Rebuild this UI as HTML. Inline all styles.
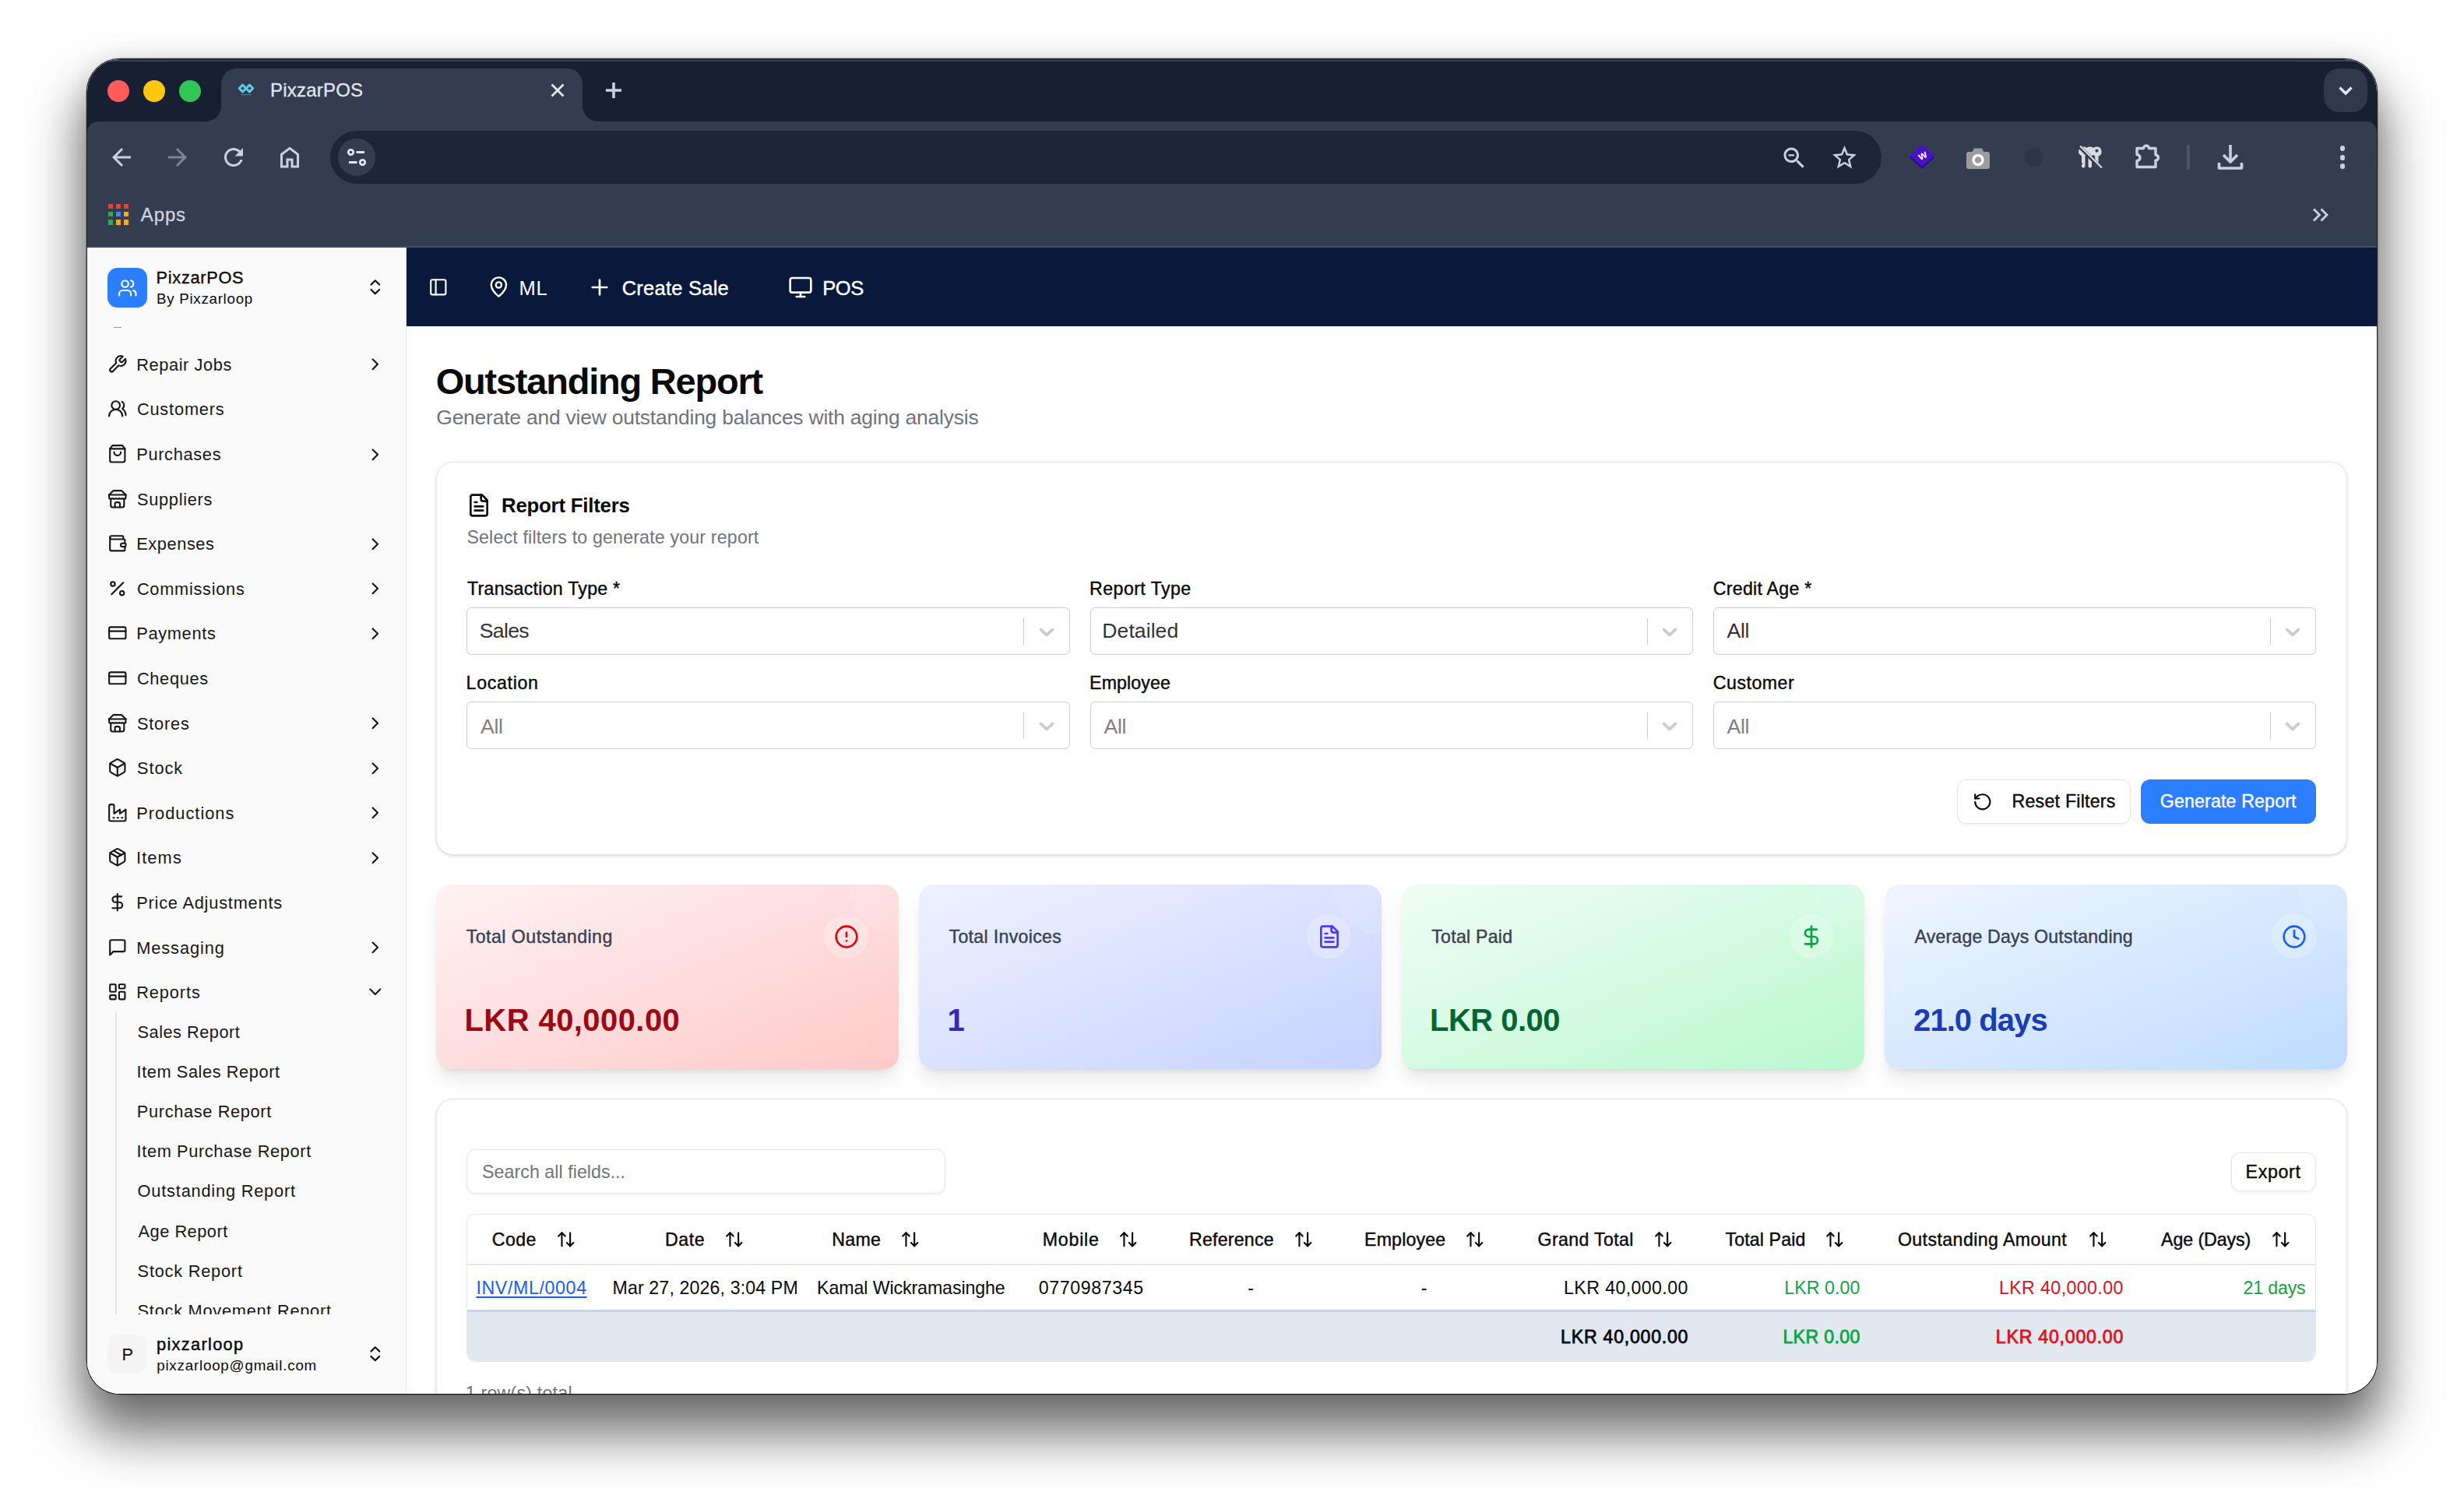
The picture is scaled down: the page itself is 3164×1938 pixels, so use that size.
<!DOCTYPE html>
<html lang="en"><head><meta charset="utf-8"><title>PixzarPOS - Outstanding Report</title>
<style>
html,body{margin:0;padding:0;background:#fff;}
body{width:3164px;height:1938px;position:relative;overflow:hidden;font-family:"Liberation Sans", sans-serif;}
#win{position:absolute;left:112px;top:76px;width:2940px;height:1714px;border-radius:42px;overflow:hidden;background:#fff;z-index:2;}
#shadow{position:absolute;left:112px;top:76px;width:2940px;height:1714px;border-radius:42px;z-index:1;
 box-shadow:0 0 0 1.3px rgba(0,0,0,.78),0 44px 68px 8px rgba(0,0,0,.57),0 4px 30px 0 rgba(0,0,0,.10);}
.b,.i,.t,.clip{position:absolute;}
.b{box-sizing:border-box;}
.t{white-space:pre;line-height:1;}
.i{overflow:visible;display:block;}
.clip{overflow:hidden;}
</style></head>
<body>
<div id="shadow"></div>
<div id="win">
<div class="b" style="left:0.0px;top:0.0px;width:2940.0px;height:110.0px;background:#172032;"></div>
<div class="b" style="left:0.0px;top:80.0px;width:2940.0px;height:162.0px;background:#343d4f;border-radius:14px 14px 0 0;"></div>
<div class="b" style="left:0.0px;top:239.5px;width:2940.0px;height:2.5px;background:#46505e;"></div>
<div class="b" style="left:0.0px;top:1.0px;width:2940.0px;height:1.5px;background:rgba(255,255,255,.16);"></div>
<svg class="i" style="left:148px;top:12px;width:512px;height:68px" viewBox="260 88 512 68"><path fill="#343d4f" d="M264 156 A20 20 0 0 0 284 136 L284 108 A20 20 0 0 1 304 88 L728 88 A20 20 0 0 1 748 108 L748 136 A20 20 0 0 0 768 156 Z"/></svg>
<div class="b" style="left:26.0px;top:27.0px;width:28.0px;height:28.0px;background:#ff5b5a;border-radius:50%;"></div>
<div class="b" style="left:72.0px;top:27.0px;width:28.0px;height:28.0px;background:#fdc60f;border-radius:50%;"></div>
<div class="b" style="left:118.0px;top:27.0px;width:28.0px;height:28.0px;background:#31c757;border-radius:50%;"></div>
<svg class="i" style="left:193px;top:27px;width:22px;height:24px" viewBox="0 0 22 24" fill="none" stroke="#5fcbe6" stroke-width="2.9" stroke-linejoin="round" stroke-linecap="round"><path d="M2.2 10.5 L6.6 6.1 L11 10.5 L6.6 14.9 Z"/><path d="M11 10.5 L15.4 6.1 L19.8 10.5 L15.4 14.9 Z"/><path d="M4.5 18.6 H17.5" stroke-width="1.4" stroke="#3f7d94"/></svg>
<span class="t" style="left:235.0px;top:28.3px;font-size:24px;letter-spacing:0.21px;color:#e1e6f0;-webkit-text-stroke:0.3px #e1e6f0;">PixzarPOS</span>
<svg class="i" style="left:595px;top:31px;width:18px;height:18px" viewBox="0 0 18 18" stroke="#e3e8f2" stroke-width="2.8" fill="none"><path d="M1.5 1.5 L16.5 16.5 M16.5 1.5 L1.5 16.5"/></svg>
<svg class="i" style="left:665px;top:29px;width:22px;height:22px" viewBox="0 0 22 22" stroke="#c7d0e5" stroke-width="3.6" fill="none"><path d="M1 11 H21 M11 1 V21"/></svg>
<div class="b" style="left:2872.0px;top:12.0px;width:56.0px;height:56.0px;background:#2f394b;border-radius:20px;"></div>
<svg class="i" style="left:2889px;top:29px;width:22px;height:22px" viewBox="0 0 22 22" stroke="#dfe5f0" stroke-width="3.4" fill="none"><path d="M3.5 7.5 L11 15 L18.5 7.5"/></svg>
<svg class="i" style="left:26.0px;top:108.0px;width:36px;height:36px" viewBox="0 0 24 24" fill="#c7d0e5"><path d="M20 11H7.83l5.59-5.59L12 4l-8 8 8 8 1.41-1.41L7.83 13H20v-2z"/></svg>
<svg class="i" style="left:97.8px;top:108.0px;width:36px;height:36px" viewBox="0 0 24 24" fill="#79839a"><path d="M12 4l-1.41 1.41L16.17 11H4v2h12.17l-5.58 5.59L12 20l8-8z"/></svg>
<svg class="i" style="left:170.0px;top:108.0px;width:36px;height:36px" viewBox="0 0 24 24" fill="#c7d0e5"><path d="M17.65 6.35C16.2 4.9 14.21 4 12 4c-4.42 0-7.99 3.58-7.99 8s3.57 8 7.99 8c3.73 0 6.84-2.55 7.73-6h-2.08c-.82 2.33-3.04 4-5.65 4-3.31 0-6-2.69-6-6s2.69-6 6-6c1.66 0 3.14.69 4.22 1.78L13 11h7V4l-2.35 2.35z"/></svg>
<svg class="i" style="left:242.0px;top:108.0px;width:36px;height:36px" viewBox="0 0 24 24" fill="#c7d0e5"><path d="M6 19h3v-6h6v6h3v-9l-6-4.5L6 10v9zm-2 2V9l8-6 8 6v12h-7v-6h-2v6H4z"/></svg>
<div class="b" style="left:312.0px;top:92.0px;width:1992.0px;height:68.0px;background:#1d2639;border-radius:34px;"></div>
<div class="b" style="left:322.0px;top:102.0px;width:48.0px;height:48.0px;background:#343d4f;border-radius:50%;"></div>
<svg class="i" style="left:332px;top:112px;width:28px;height:28px" viewBox="0 0 28 28" stroke="#dfe5f0" stroke-width="2.8" fill="none"><circle cx="6.5" cy="7.5" r="3.2"/><path d="M13.5 7.5 H24"/><circle cx="21.5" cy="20.5" r="3.2"/><path d="M4 20.5 H14.5"/></svg>
<svg class="i" style="left:2174.0px;top:109.0px;width:36px;height:36px" viewBox="0 0 24 24" fill="#c7d0e5"><path d="M15.5 14h-.79l-.28-.27C15.41 12.59 16 11.11 16 9.5 16 5.91 13.09 3 9.5 3S3 5.91 3 9.5 5.91 16 9.5 16c1.61 0 3.09-.59 4.23-1.57l.27.28v.79l5 4.99L20.49 19l-4.99-5zm-6 0C7.01 14 5 11.99 5 9.5S7.01 5 9.5 5 14 7.01 14 9.5 11.99 14 9.5 14zM7 8.8h5v1.5H7z"/></svg>
<svg class="i" style="left:2237.5px;top:107.5px;width:37px;height:37px" viewBox="0 0 24 24" fill="#c7d0e5"><path d="M22 9.24l-7.19-.62L12 2 9.19 8.63 2 9.24l5.46 4.73L5.82 21 12 17.27 18.18 21l-1.63-7.03L22 9.24zM12 15.4l-3.76 2.27 1-4.28-3.32-2.88 4.38-.38L12 6.1l1.71 4.04 4.38.38-3.32 2.88 1 4.28L12 15.4z"/></svg>
<svg class="i" style="left:2339px;top:109.19999999999999px;width:34px;height:33px" viewBox="0 0 34 33"><path d="M17 4 L33 17.5 L17 32 L1 17.5 Z" fill="#2d0b8f"/><path d="M17 1 L33 14.5 L17 28.5 L1 14.5 Z" fill="#4a12c8"/></svg>
<span class="t" style="left:2351.0px;top:116.2px;font-size:14px;letter-spacing:0.00px;color:#ffffff;font-weight:700;transform:rotate(-26deg);">w</span>
<svg class="i" style="left:2413px;top:113px;width:30px;height:28px" viewBox="0 0 30 28"><path d="M3 6 H7.5 L10 1.5 H20 L22.5 6 H27 A3 3 0 0 1 30 9 V25 A3 3 0 0 1 27 28 H3 A3 3 0 0 1 0 25 V9 A3 3 0 0 1 3 6 Z" fill="#9c9c9c"/><circle cx="15" cy="16.5" r="6" fill="none" stroke="#ffffff" stroke-width="3.4"/></svg>
<div class="b" style="left:2488.0px;top:114.0px;width:24.0px;height:24.0px;background:#2d3647;border-radius:50%;"></div>
<svg class="i" style="left:2556px;top:111px;width:32px;height:30px" viewBox="0 0 32 30"><g fill="#d9dbe2"><path d="M7.5 1.5a6 6 0 0 1 2 11.6V27l-2.2 2-2.3-2v-2.4l1.5-1.3-1.5-1.4v-8.8A6 6 0 0 1 7.5 1.5z"/><path d="M16 1.5a6 6 0 0 1 2 11.6V27l-2.2 2-2.3-2V13.1A6 6 0 0 1 16 1.5z"/><path d="M24.5 1.5a6.2 6.2 0 0 1 2.1 12V25l-2.1 2-2.3-2V13.5a6.2 6.2 0 0 1 2.3-12zm0 3a2.1 2.1 0 1 0 0 4.2 2.1 2.1 0 0 0 0-4.2z"/></g><path d="M2 1 L30 29" stroke="#343d4f" stroke-width="5"/><path d="M3 0.5 L31 28.5" stroke="#d9dbe2" stroke-width="2.2"/></svg>
<svg class="i" style="left:2628.8px;top:106px;width:34px;height:36px" viewBox="0 0 34 36" fill="none" stroke="#c7d0e5" stroke-width="3.4" stroke-linejoin="round"><path d="M3 8.5 H11.5 A3.5 3.5 0 0 1 18.5 8.5 H27 V17 A3.5 3.5 0 0 1 27 24 V32.5 H3 V24.5 A4 4 0 0 0 3 16.5 Z"/></svg>
<div class="b" style="left:2696.0px;top:110.0px;width:4.0px;height:32.0px;background:#4b5569;border-radius:2px;"></div>
<svg class="i" style="left:2735px;top:108px;width:34px;height:36px" viewBox="0 0 34 36" fill="none" stroke="#c7d0e5" stroke-width="3.6" stroke-linejoin="round"><path d="M17 2 V23"/><path d="M8 15 L17 24 L26 15"/><path d="M2.5 25 V32 H31.5 V25"/></svg>
<div class="b" style="left:2892.6px;top:111.4px;width:6.8px;height:6.8px;background:#c7d0e5;border-radius:50%;"></div>
<div class="b" style="left:2892.6px;top:123.0px;width:6.8px;height:6.8px;background:#c7d0e5;border-radius:50%;"></div>
<div class="b" style="left:2892.6px;top:134.2px;width:6.8px;height:6.8px;background:#c7d0e5;border-radius:50%;"></div>
<div class="b" style="left:26.6px;top:185.8px;width:6.6px;height:6.6px;background:#ea4335;"></div>
<div class="b" style="left:36.7px;top:185.8px;width:6.6px;height:6.6px;background:#ea4335;"></div>
<div class="b" style="left:46.8px;top:185.8px;width:6.6px;height:6.6px;background:#ea4335;"></div>
<div class="b" style="left:26.6px;top:195.9px;width:6.6px;height:6.6px;background:#34a853;"></div>
<div class="b" style="left:36.7px;top:195.9px;width:6.6px;height:6.6px;background:#4285f4;"></div>
<div class="b" style="left:46.8px;top:195.9px;width:6.6px;height:6.6px;background:#f5a623;"></div>
<div class="b" style="left:26.6px;top:206.0px;width:6.6px;height:6.6px;background:#34a853;"></div>
<div class="b" style="left:36.7px;top:206.0px;width:6.6px;height:6.6px;background:#f5a623;"></div>
<div class="b" style="left:46.8px;top:206.0px;width:6.6px;height:6.6px;background:#f5a623;"></div>
<span class="t" style="left:68.8px;top:188.0px;font-size:24px;letter-spacing:0.87px;color:#ccd4e6;-webkit-text-stroke:0.3px #ccd4e6;">Apps</span>
<svg class="i" style="left:2856.8px;top:189.89999999999998px;width:22px;height:20px" viewBox="0 0 22 20" fill="none" stroke="#c7d0e5" stroke-width="2.8"><path d="M2 2.5 L9.5 10 L2 17.5"/><path d="M11.5 2.5 L19 10 L11.5 17.5"/></svg>
<div class="b" style="left:0.0px;top:242.0px;width:2940.0px;height:1472.0px;background:#ffffff;"></div>
<div class="b" style="left:0.0px;top:242.0px;width:409.0px;height:1472.0px;background:#fafafa;border-right:1.6px solid #e5e5e5;box-sizing:content-box;"></div>
<div class="b" style="left:410.0px;top:242.0px;width:2530.0px;height:101.0px;background:#08193c;"></div>
<div class="b" style="left:26.0px;top:268.0px;width:51.2px;height:51.2px;background:#2b7fff;border-radius:12.8px;"></div>
<svg class="i" style="left:38.8px;top:280.8px;width:25.6px;height:25.6px;color:#ffffff;" viewBox="0 0 24 24" fill="none" stroke="currentColor" stroke-width="2" stroke-linecap="round" stroke-linejoin="round"><path d="M16 21v-2a4 4 0 0 0-4-4H6a4 4 0 0 0-4 4v2"/><circle cx="9" cy="7" r="4"/><path d="M22 21v-2a4 4 0 0 0-3-3.87"/><path d="M16 3.13a4 4 0 0 1 0 7.75"/></svg>
<span class="t" style="left:88.6px;top:269.6px;font-size:21.8px;letter-spacing:0.67px;color:#0a0a0a;-webkit-text-stroke:0.35px #0a0a0a;">PixzarPOS</span>
<span class="t" style="left:88.9px;top:298.7px;font-size:18.8px;letter-spacing:0.71px;color:#0a0a0a;">By Pixzarloop</span>
<svg class="i" style="left:356.9px;top:280.0px;width:25.6px;height:25.6px;color:#0a0a0a;" viewBox="0 0 24 24" fill="none" stroke="currentColor" stroke-width="2" stroke-linecap="round" stroke-linejoin="round"><path d="m7 15 5 5 5-5"/><path d="m7 9 5-5 5 5"/></svg>
<div class="b" style="left:34.4px;top:343.6px;width:9.4px;height:1.4px;background:#9a9a9a;"></div>
<svg class="i" style="left:26.2px;top:378.7px;width:25.6px;height:25.6px;color:#171717;" viewBox="0 0 24 24" fill="none" stroke="currentColor" stroke-width="2" stroke-linecap="round" stroke-linejoin="round"><path d="M14.7 6.3a1 1 0 0 0 0 1.4l1.6 1.6a1 1 0 0 0 1.4 0l3.77-3.77a6 6 0 0 1-7.94 7.94l-6.91 6.91a2.12 2.12 0 0 1-3-3l6.91-6.91a6 6 0 0 1 7.94-7.94l-3.76 3.76z"/></svg>
<span class="t" style="left:63.2px;top:381.8px;font-size:21.8px;letter-spacing:0.59px;color:#171717;">Repair Jobs</span>
<svg class="i" style="left:356.9px;top:379.3px;width:25.6px;height:25.6px;color:#171717;" viewBox="0 0 24 24" fill="none" stroke="currentColor" stroke-width="2" stroke-linecap="round" stroke-linejoin="round"><path d="m9 18 6-6-6-6"/></svg>
<svg class="i" style="left:26.2px;top:436.3px;width:25.6px;height:25.6px;color:#171717;" viewBox="0 0 24 24" fill="none" stroke="currentColor" stroke-width="2" stroke-linecap="round" stroke-linejoin="round"><path d="M18 21a8 8 0 0 0-16 0"/><circle cx="10" cy="8" r="5"/><path d="M22 20c0-3.37-2-6.5-4-8a5 5 0 0 0-.45-8.3"/></svg>
<span class="t" style="left:63.9px;top:439.4px;font-size:21.8px;letter-spacing:0.81px;color:#171717;">Customers</span>
<svg class="i" style="left:26.2px;top:493.9px;width:25.6px;height:25.6px;color:#171717;" viewBox="0 0 24 24" fill="none" stroke="currentColor" stroke-width="2" stroke-linecap="round" stroke-linejoin="round"><path d="M6 2 3 6v14a2 2 0 0 0 2 2h14a2 2 0 0 0 2-2V6l-3-4Z"/><path d="M3 6h18"/><path d="M16 10a4 4 0 0 1-8 0"/></svg>
<span class="t" style="left:63.2px;top:497.0px;font-size:21.8px;letter-spacing:0.67px;color:#171717;">Purchases</span>
<svg class="i" style="left:356.9px;top:494.5px;width:25.6px;height:25.6px;color:#171717;" viewBox="0 0 24 24" fill="none" stroke="currentColor" stroke-width="2" stroke-linecap="round" stroke-linejoin="round"><path d="m9 18 6-6-6-6"/></svg>
<svg class="i" style="left:26.2px;top:551.5px;width:25.6px;height:25.6px;color:#171717;" viewBox="0 0 24 24" fill="none" stroke="currentColor" stroke-width="2" stroke-linecap="round" stroke-linejoin="round"><path d="m2 7 4.41-4.41A2 2 0 0 1 7.83 2h8.34a2 2 0 0 1 1.42.59L22 7"/><path d="M4 12v8a2 2 0 0 0 2 2h12a2 2 0 0 0 2-2v-8"/><path d="M15 22v-4a2 2 0 0 0-2-2h-2a2 2 0 0 0-2 2v4"/><path d="M2 7h20"/><path d="M22 7v3a2 2 0 0 1-2 2a2.7 2.7 0 0 1-1.59-.63.7.7 0 0 0-.82 0A2.7 2.7 0 0 1 16 12a2.7 2.7 0 0 1-1.59-.63.7.7 0 0 0-.82 0A2.7 2.7 0 0 1 12 12a2.7 2.7 0 0 1-1.59-.63.7.7 0 0 0-.82 0A2.7 2.7 0 0 1 8 12a2.7 2.7 0 0 1-1.59-.63.7.7 0 0 0-.82 0A2.7 2.7 0 0 1 4 12a2 2 0 0 1-2-2V7"/></svg>
<span class="t" style="left:64.0px;top:554.6px;font-size:21.8px;letter-spacing:0.69px;color:#171717;">Suppliers</span>
<svg class="i" style="left:26.2px;top:609.1px;width:25.6px;height:25.6px;color:#171717;" viewBox="0 0 24 24" fill="none" stroke="currentColor" stroke-width="2" stroke-linecap="round" stroke-linejoin="round"><path d="M19 7V4a1 1 0 0 0-1-1H5a2 2 0 0 0 0 4h15a1 1 0 0 1 1 1v4h-3a2 2 0 0 0 0 4h3a1 1 0 0 0 1-1v-2a1 1 0 0 0-1-1"/><path d="M3 5v14a2 2 0 0 0 2 2h15a1 1 0 0 0 1-1v-4"/></svg>
<span class="t" style="left:63.2px;top:612.2px;font-size:21.8px;letter-spacing:0.58px;color:#171717;">Expenses</span>
<svg class="i" style="left:356.9px;top:609.7px;width:25.6px;height:25.6px;color:#171717;" viewBox="0 0 24 24" fill="none" stroke="currentColor" stroke-width="2" stroke-linecap="round" stroke-linejoin="round"><path d="m9 18 6-6-6-6"/></svg>
<svg class="i" style="left:26.2px;top:666.7px;width:25.6px;height:25.6px;color:#171717;" viewBox="0 0 24 24" fill="none" stroke="currentColor" stroke-width="2" stroke-linecap="round" stroke-linejoin="round"><line x1="19" x2="5" y1="5" y2="19"/><circle cx="6.5" cy="6.5" r="2.5"/><circle cx="17.5" cy="17.5" r="2.5"/></svg>
<span class="t" style="left:63.9px;top:669.8px;font-size:21.8px;letter-spacing:0.71px;color:#171717;">Commissions</span>
<svg class="i" style="left:356.9px;top:667.3px;width:25.6px;height:25.6px;color:#171717;" viewBox="0 0 24 24" fill="none" stroke="currentColor" stroke-width="2" stroke-linecap="round" stroke-linejoin="round"><path d="m9 18 6-6-6-6"/></svg>
<svg class="i" style="left:26.2px;top:724.3px;width:25.6px;height:25.6px;color:#171717;" viewBox="0 0 24 24" fill="none" stroke="currentColor" stroke-width="2" stroke-linecap="round" stroke-linejoin="round"><rect width="20" height="14" x="2" y="5" rx="2"/><line x1="2" x2="22" y1="10" y2="10"/></svg>
<span class="t" style="left:63.2px;top:727.4px;font-size:21.8px;letter-spacing:0.67px;color:#171717;">Payments</span>
<svg class="i" style="left:356.9px;top:724.9px;width:25.6px;height:25.6px;color:#171717;" viewBox="0 0 24 24" fill="none" stroke="currentColor" stroke-width="2" stroke-linecap="round" stroke-linejoin="round"><path d="m9 18 6-6-6-6"/></svg>
<svg class="i" style="left:26.2px;top:781.9px;width:25.6px;height:25.6px;color:#171717;" viewBox="0 0 24 24" fill="none" stroke="currentColor" stroke-width="2" stroke-linecap="round" stroke-linejoin="round"><rect width="20" height="14" x="2" y="5" rx="2"/><line x1="2" x2="22" y1="10" y2="10"/></svg>
<span class="t" style="left:63.9px;top:785.0px;font-size:21.8px;letter-spacing:0.67px;color:#171717;">Cheques</span>
<svg class="i" style="left:26.2px;top:839.5px;width:25.6px;height:25.6px;color:#171717;" viewBox="0 0 24 24" fill="none" stroke="currentColor" stroke-width="2" stroke-linecap="round" stroke-linejoin="round"><path d="m2 7 4.41-4.41A2 2 0 0 1 7.83 2h8.34a2 2 0 0 1 1.42.59L22 7"/><path d="M4 12v8a2 2 0 0 0 2 2h12a2 2 0 0 0 2-2v-8"/><path d="M15 22v-4a2 2 0 0 0-2-2h-2a2 2 0 0 0-2 2v4"/><path d="M2 7h20"/><path d="M22 7v3a2 2 0 0 1-2 2a2.7 2.7 0 0 1-1.59-.63.7.7 0 0 0-.82 0A2.7 2.7 0 0 1 16 12a2.7 2.7 0 0 1-1.59-.63.7.7 0 0 0-.82 0A2.7 2.7 0 0 1 12 12a2.7 2.7 0 0 1-1.59-.63.7.7 0 0 0-.82 0A2.7 2.7 0 0 1 8 12a2.7 2.7 0 0 1-1.59-.63.7.7 0 0 0-.82 0A2.7 2.7 0 0 1 4 12a2 2 0 0 1-2-2V7"/></svg>
<span class="t" style="left:64.0px;top:842.6px;font-size:21.8px;letter-spacing:0.76px;color:#171717;">Stores</span>
<svg class="i" style="left:356.9px;top:840.1px;width:25.6px;height:25.6px;color:#171717;" viewBox="0 0 24 24" fill="none" stroke="currentColor" stroke-width="2" stroke-linecap="round" stroke-linejoin="round"><path d="m9 18 6-6-6-6"/></svg>
<svg class="i" style="left:26.2px;top:897.1px;width:25.6px;height:25.6px;color:#171717;" viewBox="0 0 24 24" fill="none" stroke="currentColor" stroke-width="2" stroke-linecap="round" stroke-linejoin="round"><path d="M21 8a2 2 0 0 0-1-1.73l-7-4a2 2 0 0 0-2 0l-7 4A2 2 0 0 0 3 8v8a2 2 0 0 0 1 1.73l7 4a2 2 0 0 0 2 0l7-4A2 2 0 0 0 21 16Z"/><path d="m3.3 7 8.7 5 8.7-5"/><path d="M12 22V12"/></svg>
<span class="t" style="left:64.0px;top:900.2px;font-size:21.8px;letter-spacing:0.91px;color:#171717;">Stock</span>
<svg class="i" style="left:356.9px;top:897.7px;width:25.6px;height:25.6px;color:#171717;" viewBox="0 0 24 24" fill="none" stroke="currentColor" stroke-width="2" stroke-linecap="round" stroke-linejoin="round"><path d="m9 18 6-6-6-6"/></svg>
<svg class="i" style="left:26.2px;top:954.7px;width:25.6px;height:25.6px;color:#171717;" viewBox="0 0 24 24" fill="none" stroke="currentColor" stroke-width="2" stroke-linecap="round" stroke-linejoin="round"><path d="M2 20a2 2 0 0 0 2 2h16a2 2 0 0 0 2-2V8l-7 5V8l-7 5V4a2 2 0 0 0-2-2H4a2 2 0 0 0-2 2Z"/><path d="M17 18h1"/><path d="M12 18h1"/><path d="M7 18h1"/></svg>
<span class="t" style="left:63.2px;top:957.8px;font-size:21.8px;letter-spacing:1.01px;color:#171717;">Productions</span>
<svg class="i" style="left:356.9px;top:955.3px;width:25.6px;height:25.6px;color:#171717;" viewBox="0 0 24 24" fill="none" stroke="currentColor" stroke-width="2" stroke-linecap="round" stroke-linejoin="round"><path d="m9 18 6-6-6-6"/></svg>
<svg class="i" style="left:26.2px;top:1012.3px;width:25.6px;height:25.6px;color:#171717;" viewBox="0 0 24 24" fill="none" stroke="currentColor" stroke-width="2" stroke-linecap="round" stroke-linejoin="round"><path d="m7.5 4.27 9 5.15"/><path d="M21 8a2 2 0 0 0-1-1.73l-7-4a2 2 0 0 0-2 0l-7 4A2 2 0 0 0 3 8v8a2 2 0 0 0 1 1.73l7 4a2 2 0 0 0 2 0l7-4A2 2 0 0 0 21 16Z"/><path d="m3.3 7 8.7 5 8.7-5"/><path d="M12 22V12"/></svg>
<span class="t" style="left:63.0px;top:1015.4px;font-size:21.8px;letter-spacing:1.13px;color:#171717;">Items</span>
<svg class="i" style="left:356.9px;top:1012.9px;width:25.6px;height:25.6px;color:#171717;" viewBox="0 0 24 24" fill="none" stroke="currentColor" stroke-width="2" stroke-linecap="round" stroke-linejoin="round"><path d="m9 18 6-6-6-6"/></svg>
<svg class="i" style="left:26.2px;top:1069.9px;width:25.6px;height:25.6px;color:#171717;" viewBox="0 0 24 24" fill="none" stroke="currentColor" stroke-width="2" stroke-linecap="round" stroke-linejoin="round"><line x1="12" x2="12" y1="2" y2="22"/><path d="M17 5H9.5a3.5 3.5 0 0 0 0 7h5a3.5 3.5 0 0 1 0 7H6"/></svg>
<span class="t" style="left:63.2px;top:1073.0px;font-size:21.8px;letter-spacing:0.78px;color:#171717;">Price Adjustments</span>
<svg class="i" style="left:26.2px;top:1127.5px;width:25.6px;height:25.6px;color:#171717;" viewBox="0 0 24 24" fill="none" stroke="currentColor" stroke-width="2" stroke-linecap="round" stroke-linejoin="round"><path d="M21 15a2 2 0 0 1-2 2H7l-4 4V5a2 2 0 0 1 2-2h14a2 2 0 0 1 2 2z"/></svg>
<span class="t" style="left:63.2px;top:1130.6px;font-size:21.8px;letter-spacing:0.91px;color:#171717;">Messaging</span>
<svg class="i" style="left:356.9px;top:1128.1px;width:25.6px;height:25.6px;color:#171717;" viewBox="0 0 24 24" fill="none" stroke="currentColor" stroke-width="2" stroke-linecap="round" stroke-linejoin="round"><path d="m9 18 6-6-6-6"/></svg>
<svg class="i" style="left:26.2px;top:1185.1px;width:25.6px;height:25.6px;color:#171717;" viewBox="0 0 24 24" fill="none" stroke="currentColor" stroke-width="2" stroke-linecap="round" stroke-linejoin="round"><rect width="7" height="9" x="3" y="3" rx="1"/><rect width="7" height="5" x="14" y="3" rx="1"/><rect width="7" height="9" x="14" y="12" rx="1"/><rect width="7" height="5" x="3" y="16" rx="1"/></svg>
<span class="t" style="left:63.2px;top:1188.2px;font-size:21.8px;letter-spacing:0.88px;color:#171717;">Reports</span>
<svg class="i" style="left:356.9px;top:1185.3px;width:25.6px;height:25.6px;color:#171717;" viewBox="0 0 24 24" fill="none" stroke="currentColor" stroke-width="2" stroke-linecap="round" stroke-linejoin="round"><path d="m6 9 6 6 6-6"/></svg>
<div class="clip" style="left:0;top:0;width:410px;height:1612px"><div class="b" style="left:36.3px;top:1223.0px;width:1.6px;height:420.0px;background:#e5e5e5;"></div><span class="t" style="left:64.6px;top:1238.6px;font-size:21.8px;letter-spacing:0.47px;color:#171717;">Sales Report</span><span class="t" style="left:63.6px;top:1289.8px;font-size:21.8px;letter-spacing:0.56px;color:#171717;">Item Sales Report</span><span class="t" style="left:63.8px;top:1341.0px;font-size:21.8px;letter-spacing:0.64px;color:#171717;">Purchase Report</span><span class="t" style="left:63.6px;top:1392.2px;font-size:21.8px;letter-spacing:0.61px;color:#171717;">Item Purchase Report</span><span class="t" style="left:64.6px;top:1443.4px;font-size:21.8px;letter-spacing:0.79px;color:#171717;">Outstanding Report</span><span class="t" style="left:65.6px;top:1494.6px;font-size:21.8px;letter-spacing:0.49px;color:#171717;">Age Report</span><span class="t" style="left:64.6px;top:1545.8px;font-size:21.8px;letter-spacing:0.76px;color:#171717;">Stock Report</span><span class="t" style="left:64.6px;top:1597.0px;font-size:21.8px;letter-spacing:0.73px;color:#171717;">Stock Movement Report</span></div>
<div class="b" style="left:26.0px;top:1637.6px;width:50.4px;height:50.4px;background:#f4f4f5;border-radius:13px;"></div>
<span class="t" style="left:44.5px;top:1652.5px;font-size:21.8px;letter-spacing:0.00px;color:#0a0a0a;">P</span>
<span class="t" style="left:89.0px;top:1639.7px;font-size:21.8px;letter-spacing:1.31px;color:#0a0a0a;-webkit-text-stroke:0.45px #0a0a0a;">pixzarloop</span>
<span class="t" style="left:89.2px;top:1668.5px;font-size:18.8px;letter-spacing:0.78px;color:#0a0a0a;">pixzarloop@gmail.com</span>
<svg class="i" style="left:356.9px;top:1650.1px;width:25.6px;height:25.6px;color:#0a0a0a;" viewBox="0 0 24 24" fill="none" stroke="currentColor" stroke-width="2" stroke-linecap="round" stroke-linejoin="round"><path d="m7 15 5 5 5-5"/><path d="m7 9 5-5 5 5"/></svg>
<svg class="i" style="left:438.0px;top:280.3px;width:25.6px;height:25.6px;color:#ffffff;" viewBox="0 0 24 24" fill="none" stroke="currentColor" stroke-width="2" stroke-linecap="round" stroke-linejoin="round"><rect width="18" height="18" x="3" y="3" rx="2"/><path d="M9 3v18"/></svg>
<svg class="i" style="left:514.1px;top:277.8px;width:28.8px;height:28.8px;color:#ffffff;" viewBox="0 0 24 24" fill="none" stroke="currentColor" stroke-width="2" stroke-linecap="round" stroke-linejoin="round"><path d="M20 10c0 4.993-5.539 10.193-7.399 11.799a1 1 0 0 1-1.202 0C9.539 20.193 4 14.993 4 10a8 8 0 0 1 16 0"/><circle cx="12" cy="10" r="3"/></svg>
<span class="t" style="left:554.5px;top:281.5px;font-size:25.5px;letter-spacing:0.71px;color:#ffffff;">ML</span>
<svg class="i" style="left:641.8px;top:277.0px;width:32px;height:32px;color:#ffffff;" viewBox="0 0 24 24" fill="none" stroke="currentColor" stroke-width="2" stroke-linecap="round" stroke-linejoin="round"><path d="M5 12h14"/><path d="M12 5v14"/></svg>
<span class="t" style="left:686.7px;top:281.5px;font-size:25.5px;letter-spacing:0.24px;color:#ffffff;-webkit-text-stroke:0.4px #ffffff;">Create Sale</span>
<svg class="i" style="left:899.8px;top:276.5px;width:32px;height:32px;color:#ffffff;" viewBox="0 0 24 24" fill="none" stroke="currentColor" stroke-width="2" stroke-linecap="round" stroke-linejoin="round"><rect width="20" height="14" x="2" y="3" rx="2"/><line x1="8" x2="16" y1="21" y2="21"/><line x1="12" x2="12" y1="17" y2="21"/></svg>
<span class="t" style="left:944.3px;top:281.5px;font-size:25.5px;letter-spacing:-0.49px;color:#ffffff;-webkit-text-stroke:0.4px #ffffff;">POS</span>
<span class="t" style="left:447.7px;top:389.8px;font-size:47px;letter-spacing:-1.22px;color:#0a0a0a;font-weight:700;">Outstanding Report</span>
<span class="t" style="left:448.3px;top:446.9px;font-size:26.4px;letter-spacing:-0.19px;color:#70727e;">Generate and view outstanding balances with aging analysis</span>
<div class="b" style="left:448.0px;top:517.0px;width:2453.5px;height:504.5px;background:#fff;border:1.6px solid #e5e5e5;border-radius:22px;box-shadow:0 1.6px 4.8px rgba(0,0,0,.1),0 1.6px 3.2px -1.6px rgba(0,0,0,.1);box-sizing:border-box;"></div>
<svg class="i" style="left:487.0px;top:557.0px;width:32px;height:32px;color:#0a0a0a;" viewBox="0 0 24 24" fill="none" stroke="currentColor" stroke-width="2" stroke-linecap="round" stroke-linejoin="round"><path d="M15 2H6a2 2 0 0 0-2 2v16a2 2 0 0 0 2 2h12a2 2 0 0 0 2-2V7Z"/><path d="M14 2v4a2 2 0 0 0 2 2h4"/><path d="M10 9H8"/><path d="M16 13H8"/><path d="M16 17H8"/></svg>
<span class="t" style="left:532.0px;top:560.6px;font-size:25.8px;letter-spacing:-0.22px;color:#0a0a0a;font-weight:700;">Report Filters</span>
<span class="t" style="left:487.4px;top:603.0px;font-size:23.2px;letter-spacing:0.17px;color:#70727e;">Select filters to generate your report</span>
<span class="t" style="left:488.0px;top:669.3px;font-size:23.2px;letter-spacing:0.24px;color:#0a0a0a;-webkit-text-stroke:0.4px #0a0a0a;">Transaction Type *</span>
<div class="b" style="left:487.0px;top:704.4px;width:774.5px;height:60.6px;background:#fff;border:1.6px solid #ccc;border-radius:6.4px;box-sizing:border-box;"></div>
<span class="t" style="left:503.8px;top:721.3px;font-size:26.6px;letter-spacing:-0.69px;color:#333;">Sales</span>
<div class="b" style="left:1202.1px;top:717.6px;width:1.4px;height:34.2px;background:#ccc;"></div>
<svg class="i" style="left:1215.5px;top:718.7px;width:32px;height:32px" viewBox="0 0 20 20" fill="#ccc"><path d="M4.516 7.548c0.436-0.446 1.043-0.481 1.576 0l3.908 3.747 3.908-3.747c0.533-0.481 1.141-0.446 1.574 0 0.436 0.445 0.408 1.197 0 1.615-0.406 0.418-4.695 4.502-4.695 4.502-0.217 0.223-0.502 0.335-0.787 0.335s-0.57-0.112-0.789-0.335c0 0-4.287-4.084-4.695-4.502s-0.436-1.17 0-1.615z"/></svg>
<span class="t" style="left:1287.1px;top:669.3px;font-size:23.2px;letter-spacing:0.42px;color:#0a0a0a;-webkit-text-stroke:0.4px #0a0a0a;">Report Type</span>
<div class="b" style="left:1287.5px;top:704.4px;width:774.5px;height:60.6px;background:#fff;border:1.6px solid #ccc;border-radius:6.4px;box-sizing:border-box;"></div>
<span class="t" style="left:1303.3px;top:721.3px;font-size:26.6px;letter-spacing:0.05px;color:#333;">Detailed</span>
<div class="b" style="left:2002.6px;top:717.6px;width:1.4px;height:34.2px;background:#ccc;"></div>
<svg class="i" style="left:2016.0px;top:718.7px;width:32px;height:32px" viewBox="0 0 20 20" fill="#ccc"><path d="M4.516 7.548c0.436-0.446 1.043-0.481 1.576 0l3.908 3.747 3.908-3.747c0.533-0.481 1.141-0.446 1.574 0 0.436 0.445 0.408 1.197 0 1.615-0.406 0.418-4.695 4.502-4.695 4.502-0.217 0.223-0.502 0.335-0.787 0.335s-0.57-0.112-0.789-0.335c0 0-4.287-4.084-4.695-4.502s-0.436-1.17 0-1.615z"/></svg>
<span class="t" style="left:2087.8px;top:669.3px;font-size:23.2px;letter-spacing:0.25px;color:#0a0a0a;-webkit-text-stroke:0.4px #0a0a0a;">Credit Age *</span>
<div class="b" style="left:2087.5px;top:704.4px;width:774.5px;height:60.6px;background:#fff;border:1.6px solid #ccc;border-radius:6.4px;box-sizing:border-box;"></div>
<span class="t" style="left:2105.4px;top:721.3px;font-size:26.6px;letter-spacing:-0.21px;color:#333;">All</span>
<div class="b" style="left:2802.6px;top:717.6px;width:1.4px;height:34.2px;background:#ccc;"></div>
<svg class="i" style="left:2816.0px;top:718.7px;width:32px;height:32px" viewBox="0 0 20 20" fill="#ccc"><path d="M4.516 7.548c0.436-0.446 1.043-0.481 1.576 0l3.908 3.747 3.908-3.747c0.533-0.481 1.141-0.446 1.574 0 0.436 0.445 0.408 1.197 0 1.615-0.406 0.418-4.695 4.502-4.695 4.502-0.217 0.223-0.502 0.335-0.787 0.335s-0.57-0.112-0.789-0.335c0 0-4.287-4.084-4.695-4.502s-0.436-1.17 0-1.615z"/></svg>
<span class="t" style="left:486.6px;top:789.8px;font-size:23.2px;letter-spacing:0.68px;color:#0a0a0a;-webkit-text-stroke:0.4px #0a0a0a;">Location</span>
<div class="b" style="left:487.0px;top:825.4px;width:774.5px;height:60.6px;background:#fff;border:1.6px solid #ccc;border-radius:6.4px;box-sizing:border-box;"></div>
<span class="t" style="left:504.9px;top:843.5px;font-size:26.6px;letter-spacing:-0.21px;color:#808080;">All</span>
<div class="b" style="left:1202.1px;top:838.6px;width:1.4px;height:34.2px;background:#ccc;"></div>
<svg class="i" style="left:1215.5px;top:839.7px;width:32px;height:32px" viewBox="0 0 20 20" fill="#ccc"><path d="M4.516 7.548c0.436-0.446 1.043-0.481 1.576 0l3.908 3.747 3.908-3.747c0.533-0.481 1.141-0.446 1.574 0 0.436 0.445 0.408 1.197 0 1.615-0.406 0.418-4.695 4.502-4.695 4.502-0.217 0.223-0.502 0.335-0.787 0.335s-0.57-0.112-0.789-0.335c0 0-4.287-4.084-4.695-4.502s-0.436-1.17 0-1.615z"/></svg>
<span class="t" style="left:1287.1px;top:789.8px;font-size:23.2px;letter-spacing:0.09px;color:#0a0a0a;-webkit-text-stroke:0.4px #0a0a0a;">Employee</span>
<div class="b" style="left:1287.5px;top:825.4px;width:774.5px;height:60.6px;background:#fff;border:1.6px solid #ccc;border-radius:6.4px;box-sizing:border-box;"></div>
<span class="t" style="left:1305.4px;top:843.5px;font-size:26.6px;letter-spacing:-0.21px;color:#808080;">All</span>
<div class="b" style="left:2002.6px;top:838.6px;width:1.4px;height:34.2px;background:#ccc;"></div>
<svg class="i" style="left:2016.0px;top:839.7px;width:32px;height:32px" viewBox="0 0 20 20" fill="#ccc"><path d="M4.516 7.548c0.436-0.446 1.043-0.481 1.576 0l3.908 3.747 3.908-3.747c0.533-0.481 1.141-0.446 1.574 0 0.436 0.445 0.408 1.197 0 1.615-0.406 0.418-4.695 4.502-4.695 4.502-0.217 0.223-0.502 0.335-0.787 0.335s-0.57-0.112-0.789-0.335c0 0-4.287-4.084-4.695-4.502s-0.436-1.17 0-1.615z"/></svg>
<span class="t" style="left:2087.8px;top:789.8px;font-size:23.2px;letter-spacing:0.48px;color:#0a0a0a;-webkit-text-stroke:0.4px #0a0a0a;">Customer</span>
<div class="b" style="left:2087.5px;top:825.4px;width:774.5px;height:60.6px;background:#fff;border:1.6px solid #ccc;border-radius:6.4px;box-sizing:border-box;"></div>
<span class="t" style="left:2105.4px;top:843.5px;font-size:26.6px;letter-spacing:-0.21px;color:#808080;">All</span>
<div class="b" style="left:2802.6px;top:838.6px;width:1.4px;height:34.2px;background:#ccc;"></div>
<svg class="i" style="left:2816.0px;top:839.7px;width:32px;height:32px" viewBox="0 0 20 20" fill="#ccc"><path d="M4.516 7.548c0.436-0.446 1.043-0.481 1.576 0l3.908 3.747 3.908-3.747c0.533-0.481 1.141-0.446 1.574 0 0.436 0.445 0.408 1.197 0 1.615-0.406 0.418-4.695 4.502-4.695 4.502-0.217 0.223-0.502 0.335-0.787 0.335s-0.57-0.112-0.789-0.335c0 0-4.287-4.084-4.695-4.502s-0.436-1.17 0-1.615z"/></svg>
<div class="b" style="left:2401.3px;top:925.0px;width:222.4px;height:57.0px;background:#fff;border:1.6px solid #e5e5e5;border-radius:12px;box-shadow:0 1.6px 3.2px rgba(0,0,0,.05);box-sizing:border-box;"></div>
<svg class="i" style="left:2420.7px;top:940.7px;width:25.6px;height:25.6px;color:#0a0a0a;" viewBox="0 0 24 24" fill="none" stroke="currentColor" stroke-width="2" stroke-linecap="round" stroke-linejoin="round"><path d="M3 12a9 9 0 1 0 9-9 9.75 9.75 0 0 0-6.74 2.74L3 8"/><path d="M3 3v5h5"/></svg>
<span class="t" style="left:2471.5px;top:942.0px;font-size:23.2px;letter-spacing:0.23px;color:#0a0a0a;-webkit-text-stroke:0.4px #0a0a0a;">Reset Filters</span>
<div class="b" style="left:2637.0px;top:925.0px;width:225.0px;height:57.0px;background:#2b7fff;border-radius:12px;"></div>
<span class="t" style="left:2661.8px;top:942.0px;font-size:23.2px;letter-spacing:0.14px;color:#ffffff;-webkit-text-stroke:0.4px #ffffff;">Generate Report</span>
<div class="b" style="left:448.2px;top:1060.0px;width:594.0px;height:237.0px;background:linear-gradient(to bottom right,#fef2f2,#ffc9c9);border-radius:19.2px;box-shadow:0 16px 24px -4.8px rgba(0,0,0,.1),0 6.4px 9.6px -6.4px rgba(0,0,0,.1);overflow:hidden;"><div class="b" style="right:-64px;top:-64px;width:128px;height:128px;border-radius:50%;background:rgba(255,255,255,.10)"></div></div>
<div class="b" style="left:945.9px;top:1097.7px;width:57.6px;height:57.6px;background:rgba(255,255,255,.24);border-radius:50%;"></div>
<svg class="i" style="left:958.7px;top:1110.5px;width:32px;height:32px;color:#e7000b;" viewBox="0 0 24 24" fill="none" stroke="currentColor" stroke-width="2" stroke-linecap="round" stroke-linejoin="round"><circle cx="12" cy="12" r="10"/><line x1="12" x2="12" y1="8" y2="12"/><line x1="12" x2="12.01" y1="16" y2="16"/></svg>
<span class="t" style="left:486.7px;top:1116.0px;font-size:23.2px;letter-spacing:0.45px;color:#364153;-webkit-text-stroke:0.4px #364153;">Total Outstanding</span>
<span class="t" style="left:484.5px;top:1214.3px;font-size:40px;letter-spacing:0.42px;color:#9f0712;font-weight:700;">LKR 40,000.00</span>
<div class="b" style="left:1068.0px;top:1060.0px;width:594.0px;height:237.0px;background:linear-gradient(to bottom right,#eef2ff,#c6d2ff);border-radius:19.2px;box-shadow:0 16px 24px -4.8px rgba(0,0,0,.1),0 6.4px 9.6px -6.4px rgba(0,0,0,.1);overflow:hidden;"><div class="b" style="right:-64px;top:-64px;width:128px;height:128px;border-radius:50%;background:rgba(255,255,255,.10)"></div></div>
<div class="b" style="left:1565.7px;top:1097.7px;width:57.6px;height:57.6px;background:rgba(255,255,255,.24);border-radius:50%;"></div>
<svg class="i" style="left:1578.5px;top:1110.5px;width:32px;height:32px;color:#4f39f6;" viewBox="0 0 24 24" fill="none" stroke="currentColor" stroke-width="2" stroke-linecap="round" stroke-linejoin="round"><path d="M15 2H6a2 2 0 0 0-2 2v16a2 2 0 0 0 2 2h12a2 2 0 0 0 2-2V7Z"/><path d="M14 2v4a2 2 0 0 0 2 2h4"/><path d="M10 9H8"/><path d="M16 13H8"/><path d="M16 17H8"/></svg>
<span class="t" style="left:1106.5px;top:1116.0px;font-size:23.2px;letter-spacing:0.30px;color:#364153;-webkit-text-stroke:0.4px #364153;">Total Invoices</span>
<span class="t" style="left:1104.5px;top:1214.3px;font-size:40px;letter-spacing:0.00px;color:#372aac;font-weight:700;">1</span>
<div class="b" style="left:1687.8px;top:1060.0px;width:594.0px;height:237.0px;background:linear-gradient(to bottom right,#f0fdf4,#b9f8cf);border-radius:19.2px;box-shadow:0 16px 24px -4.8px rgba(0,0,0,.1),0 6.4px 9.6px -6.4px rgba(0,0,0,.1);overflow:hidden;"><div class="b" style="right:-64px;top:-64px;width:128px;height:128px;border-radius:50%;background:rgba(255,255,255,.10)"></div></div>
<div class="b" style="left:2185.5px;top:1097.7px;width:57.6px;height:57.6px;background:rgba(255,255,255,.24);border-radius:50%;"></div>
<svg class="i" style="left:2198.3px;top:1110.5px;width:32px;height:32px;color:#00a63e;" viewBox="0 0 24 24" fill="none" stroke="currentColor" stroke-width="2" stroke-linecap="round" stroke-linejoin="round"><line x1="12" x2="12" y1="2" y2="22"/><path d="M17 5H9.5a3.5 3.5 0 0 0 0 7h5a3.5 3.5 0 0 1 0 7H6"/></svg>
<span class="t" style="left:1726.3px;top:1116.0px;font-size:23.2px;letter-spacing:0.22px;color:#364153;-webkit-text-stroke:0.4px #364153;">Total Paid</span>
<span class="t" style="left:1724.1px;top:1214.3px;font-size:40px;letter-spacing:-0.55px;color:#016630;font-weight:700;">LKR 0.00</span>
<div class="b" style="left:2307.5px;top:1060.0px;width:594.0px;height:237.0px;background:linear-gradient(to bottom right,#eff6ff,#bedbff);border-radius:19.2px;box-shadow:0 16px 24px -4.8px rgba(0,0,0,.1),0 6.4px 9.6px -6.4px rgba(0,0,0,.1);overflow:hidden;"><div class="b" style="right:-64px;top:-64px;width:128px;height:128px;border-radius:50%;background:rgba(255,255,255,.10)"></div></div>
<div class="b" style="left:2805.2px;top:1097.7px;width:57.6px;height:57.6px;background:rgba(255,255,255,.24);border-radius:50%;"></div>
<svg class="i" style="left:2818.0px;top:1110.5px;width:32px;height:32px;color:#155dfc;" viewBox="0 0 24 24" fill="none" stroke="currentColor" stroke-width="2" stroke-linecap="round" stroke-linejoin="round"><circle cx="12" cy="12" r="10"/><polyline points="12 6 12 12 16 14"/></svg>
<span class="t" style="left:2346.5px;top:1116.0px;font-size:23.2px;letter-spacing:0.15px;color:#364153;-webkit-text-stroke:0.4px #364153;">Average Days Outstanding</span>
<span class="t" style="left:2345.1px;top:1214.3px;font-size:40px;letter-spacing:-0.95px;color:#193cb8;font-weight:700;">21.0 days</span>
<div class="b" style="left:448.0px;top:1335.0px;width:2453.5px;height:520.0px;background:#fff;border:1.6px solid #e5e5e5;border-radius:22px;box-shadow:0 1.6px 4.8px rgba(0,0,0,.1),0 1.6px 3.2px -1.6px rgba(0,0,0,.1);box-sizing:border-box;"></div>
<div class="b" style="left:487.0px;top:1400.0px;width:615.0px;height:57.4px;background:#fff;border:1.6px solid #e5e5e5;border-radius:11px;box-shadow:0 1.6px 3.2px rgba(0,0,0,.05);box-sizing:border-box;"></div>
<span class="t" style="left:507.1px;top:1418.0px;font-size:23.2px;letter-spacing:0.05px;color:#737373;">Search all fields...</span>
<div class="b" style="left:2753.3px;top:1403.5px;width:108.7px;height:50.5px;background:#fff;border:1.6px solid #e5e5e5;border-radius:11px;box-shadow:0 1.6px 3.2px rgba(0,0,0,.05);box-sizing:border-box;"></div>
<span class="t" style="left:2771.5px;top:1417.5px;font-size:23.2px;letter-spacing:0.67px;color:#0a0a0a;-webkit-text-stroke:0.4px #0a0a0a;">Export</span>
<div class="b" style="left:487.0px;top:1483.0px;width:2375.0px;height:189.6px;border:1.6px solid #e5e5e5;border-radius:11px;box-sizing:border-box;overflow:hidden;background:#fff;"><div class="b" style="left:0;top:63.4px;width:100%;height:1.6px;background:#e7e7e7"></div><div class="b" style="left:0;top:121.6px;width:100%;height:66.4px;background:#e2e8f0;border-top:3.2px solid #cad5e2;box-sizing:border-box"></div></div>
<span class="t" style="left:519.8px;top:1505.1px;font-size:23.2px;letter-spacing:0.39px;color:#0a0a0a;-webkit-text-stroke:0.4px #0a0a0a;">Code</span>
<svg class="i" style="left:602.0px;top:1502.7px;width:25.6px;height:25.6px;color:#0a0a0a;" viewBox="0 0 24 24" fill="none" stroke="currentColor" stroke-width="2" stroke-linecap="round" stroke-linejoin="round"><path d="m21 16-4 4-4-4"/><path d="M17 20V4"/><path d="m3 8 4-4 4 4"/><path d="M7 4v16"/></svg>
<span class="t" style="left:742.0px;top:1505.1px;font-size:23.2px;letter-spacing:0.55px;color:#0a0a0a;-webkit-text-stroke:0.4px #0a0a0a;">Date</span>
<svg class="i" style="left:817.6px;top:1502.7px;width:25.6px;height:25.6px;color:#0a0a0a;" viewBox="0 0 24 24" fill="none" stroke="currentColor" stroke-width="2" stroke-linecap="round" stroke-linejoin="round"><path d="m21 16-4 4-4-4"/><path d="M17 20V4"/><path d="m3 8 4-4 4 4"/><path d="M7 4v16"/></svg>
<span class="t" style="left:956.3px;top:1505.1px;font-size:23.2px;letter-spacing:0.29px;color:#0a0a0a;-webkit-text-stroke:0.4px #0a0a0a;">Name</span>
<svg class="i" style="left:1044.0px;top:1502.7px;width:25.6px;height:25.6px;color:#0a0a0a;" viewBox="0 0 24 24" fill="none" stroke="currentColor" stroke-width="2" stroke-linecap="round" stroke-linejoin="round"><path d="m21 16-4 4-4-4"/><path d="M17 20V4"/><path d="m3 8 4-4 4 4"/><path d="M7 4v16"/></svg>
<span class="t" style="left:1226.8px;top:1505.1px;font-size:23.2px;letter-spacing:0.75px;color:#0a0a0a;-webkit-text-stroke:0.4px #0a0a0a;">Mobile</span>
<svg class="i" style="left:1323.9px;top:1502.7px;width:25.6px;height:25.6px;color:#0a0a0a;" viewBox="0 0 24 24" fill="none" stroke="currentColor" stroke-width="2" stroke-linecap="round" stroke-linejoin="round"><path d="m21 16-4 4-4-4"/><path d="M17 20V4"/><path d="m3 8 4-4 4 4"/><path d="M7 4v16"/></svg>
<span class="t" style="left:1415.1px;top:1505.1px;font-size:23.2px;letter-spacing:0.19px;color:#0a0a0a;-webkit-text-stroke:0.4px #0a0a0a;">Reference</span>
<svg class="i" style="left:1548.6px;top:1502.7px;width:25.6px;height:25.6px;color:#0a0a0a;" viewBox="0 0 24 24" fill="none" stroke="currentColor" stroke-width="2" stroke-linecap="round" stroke-linejoin="round"><path d="m21 16-4 4-4-4"/><path d="M17 20V4"/><path d="m3 8 4-4 4 4"/><path d="M7 4v16"/></svg>
<span class="t" style="left:1640.0px;top:1505.1px;font-size:23.2px;letter-spacing:0.16px;color:#0a0a0a;-webkit-text-stroke:0.4px #0a0a0a;">Employee</span>
<svg class="i" style="left:1769.2px;top:1502.7px;width:25.6px;height:25.6px;color:#0a0a0a;" viewBox="0 0 24 24" fill="none" stroke="currentColor" stroke-width="2" stroke-linecap="round" stroke-linejoin="round"><path d="m21 16-4 4-4-4"/><path d="M17 20V4"/><path d="m3 8 4-4 4 4"/><path d="M7 4v16"/></svg>
<span class="t" style="left:1862.5px;top:1505.1px;font-size:23.2px;letter-spacing:0.35px;color:#0a0a0a;-webkit-text-stroke:0.4px #0a0a0a;">Grand Total</span>
<svg class="i" style="left:2011.1px;top:1502.7px;width:25.6px;height:25.6px;color:#0a0a0a;" viewBox="0 0 24 24" fill="none" stroke="currentColor" stroke-width="2" stroke-linecap="round" stroke-linejoin="round"><path d="m21 16-4 4-4-4"/><path d="M17 20V4"/><path d="m3 8 4-4 4 4"/><path d="M7 4v16"/></svg>
<span class="t" style="left:2103.5px;top:1505.1px;font-size:23.2px;letter-spacing:0.11px;color:#0a0a0a;-webkit-text-stroke:0.4px #0a0a0a;">Total Paid</span>
<svg class="i" style="left:2230.8px;top:1502.7px;width:25.6px;height:25.6px;color:#0a0a0a;" viewBox="0 0 24 24" fill="none" stroke="currentColor" stroke-width="2" stroke-linecap="round" stroke-linejoin="round"><path d="m21 16-4 4-4-4"/><path d="M17 20V4"/><path d="m3 8 4-4 4 4"/><path d="M7 4v16"/></svg>
<span class="t" style="left:2324.9px;top:1505.1px;font-size:23.2px;letter-spacing:0.40px;color:#0a0a0a;-webkit-text-stroke:0.4px #0a0a0a;">Outstanding Amount</span>
<svg class="i" style="left:2569.1px;top:1502.7px;width:25.6px;height:25.6px;color:#0a0a0a;" viewBox="0 0 24 24" fill="none" stroke="currentColor" stroke-width="2" stroke-linecap="round" stroke-linejoin="round"><path d="m21 16-4 4-4-4"/><path d="M17 20V4"/><path d="m3 8 4-4 4 4"/><path d="M7 4v16"/></svg>
<span class="t" style="left:2663.0px;top:1505.1px;font-size:23.2px;letter-spacing:-0.07px;color:#0a0a0a;-webkit-text-stroke:0.4px #0a0a0a;">Age (Days)</span>
<svg class="i" style="left:2804.2px;top:1502.7px;width:25.6px;height:25.6px;color:#0a0a0a;" viewBox="0 0 24 24" fill="none" stroke="currentColor" stroke-width="2" stroke-linecap="round" stroke-linejoin="round"><path d="m21 16-4 4-4-4"/><path d="M17 20V4"/><path d="m3 8 4-4 4 4"/><path d="M7 4v16"/></svg>
<span class="t" style="left:499.4px;top:1567.0px;font-size:23.2px;letter-spacing:0.63px;color:#155dfc;text-decoration:underline;text-decoration-thickness:1.7px;text-underline-offset:2.6px;">INV/ML/0004</span>
<span class="t" style="left:674.5px;top:1567.0px;font-size:23.2px;letter-spacing:0.12px;color:#0a0a0a;">Mar 27, 2026, 3:04 PM</span>
<span class="t" style="left:937.1px;top:1567.0px;font-size:23.2px;letter-spacing:-0.10px;color:#0a0a0a;">Kamal Wickramasinghe</span>
<span class="t" style="left:1221.7px;top:1567.0px;font-size:23.2px;letter-spacing:0.61px;color:#0a0a0a;">0770987345</span>
<span class="t" style="left:1490.3px;top:1567.0px;font-size:23.2px;letter-spacing:0.00px;color:#0a0a0a;">-</span>
<span class="t" style="left:1712.7px;top:1567.0px;font-size:23.2px;letter-spacing:0.00px;color:#0a0a0a;">-</span>
<span class="t" style="left:1896.1px;top:1567.0px;font-size:23.2px;letter-spacing:0.38px;color:#0a0a0a;">LKR 40,000.00</span>
<span class="t" style="left:2179.3px;top:1567.0px;font-size:23.2px;letter-spacing:0.06px;color:#0fa443;">LKR 0.00</span>
<span class="t" style="left:2454.9px;top:1567.0px;font-size:23.2px;letter-spacing:0.40px;color:#de1020;">LKR 40,000.00</span>
<span class="t" style="left:2768.5px;top:1567.0px;font-size:23.2px;letter-spacing:-0.17px;color:#0fa443;">21 days</span>
<span class="t" style="left:1892.1px;top:1629.7px;font-size:23.2px;letter-spacing:0.72px;color:#0a0a0a;-webkit-text-stroke:0.8px #0a0a0a;">LKR 40,000.00</span>
<span class="t" style="left:2177.4px;top:1629.7px;font-size:23.2px;letter-spacing:0.33px;color:#0fa443;-webkit-text-stroke:0.8px #0fa443;">LKR 0.00</span>
<span class="t" style="left:2450.8px;top:1629.7px;font-size:23.2px;letter-spacing:0.74px;color:#de1020;-webkit-text-stroke:0.8px #de1020;">LKR 40,000.00</span>
<span class="t" style="left:485.8px;top:1702.0px;font-size:23.2px;letter-spacing:0.21px;color:#737373;">1 row(s) total</span>
</div>
</body></html>
